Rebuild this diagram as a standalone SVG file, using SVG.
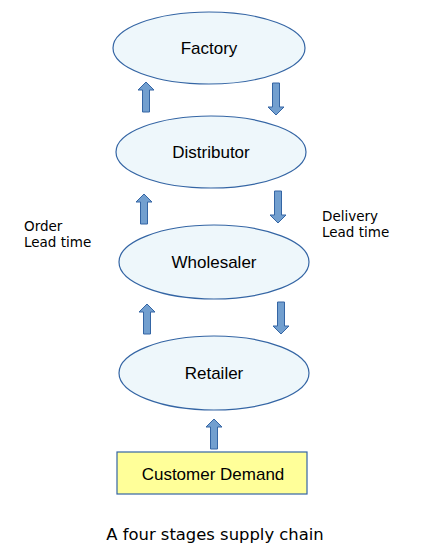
<svg xmlns="http://www.w3.org/2000/svg" width="425" height="550" viewBox="0 0 425 550">
<defs>
<style>
.node{fill:#eef7fb;stroke:#3465a4;stroke-width:1.2}
.box{fill:#ffff99;stroke:#3465a4;stroke-width:1.2}
.arr{fill:#729fcf;stroke:#3465a4;stroke-width:1}
.t{font-family:"Liberation Sans",Arial,sans-serif;font-size:17px;fill:#000;text-anchor:middle}
.lbl{font-family:"DejaVu Sans",sans-serif;font-size:13.5px;fill:#000}
.cap{font-family:"DejaVu Sans",sans-serif;font-size:16.4px;fill:#000;text-anchor:middle}
</style>
<path id="up" d="M0,0 L8,8 L3.5,8 L3.5,30 L-3.5,30 L-3.5,8 L-8,8 Z"/>
<path id="down" d="M0,0 L8,-8 L3.5,-8 L3.5,-32 L-3.5,-32 L-3.5,-8 L-8,-8 Z"/>
</defs>
<rect width="425" height="550" fill="#fff"/>
<g id="connectors">
<use href="#up" class="arr" x="146" y="82"/>
<use href="#down" class="arr" x="276" y="115"/>
<use href="#up" class="arr" x="144" y="194"/>
<use href="#down" class="arr" x="278" y="223"/>
<use href="#up" class="arr" x="147" y="304"/>
<use href="#down" class="arr" x="281" y="334"/>
<use href="#up" class="arr" x="214" y="419"/>
</g>
<g id="factory"><ellipse class="node" cx="209" cy="48" rx="96" ry="36"/><text class="t" x="209" y="54">Factory</text></g>
<g id="distributor"><ellipse class="node" cx="211" cy="152" rx="95" ry="36"/><text class="t" x="211" y="158">Distributor</text></g>
<g id="wholesaler"><ellipse class="node" cx="214" cy="262" rx="95" ry="37"/><text class="t" x="214" y="268">Wholesaler</text></g>
<g id="retailer"><ellipse class="node" cx="214" cy="373" rx="95" ry="37"/><text class="t" x="214" y="379">Retailer</text></g>
<g id="customer"><rect class="box" x="117" y="452" width="190" height="42"/><text class="t" x="213" y="480">Customer Demand</text></g>
<g id="labels">
<text class="lbl" x="24" y="231">Order</text>
<text class="lbl" x="24" y="247">Lead time</text>
<text class="lbl" x="322" y="221">Delivery</text>
<text class="lbl" x="322" y="237">Lead time</text>
<text class="cap" x="215" y="540">A four stages supply chain</text>
</g>
</svg>
